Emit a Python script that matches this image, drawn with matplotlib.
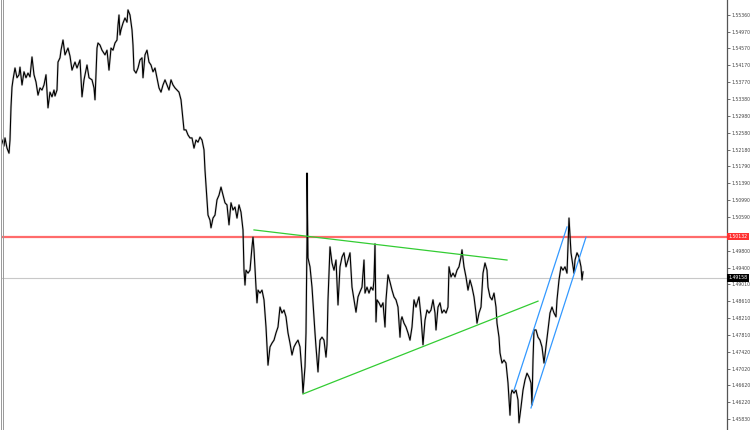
import matplotlib
matplotlib.use("Agg")
import matplotlib.pyplot as plt
from matplotlib.lines import Line2D

# price path (bar number, price)
bars = [
    2, 4, 5, 7, 9, 10, 11, 12, 13, 15, 17, 19, 20, 22, 24, 26, 28, 30, 32, 34,
    36, 38, 40, 42, 44, 46, 48, 50, 52, 54, 55, 57, 58, 60, 61, 63, 65, 68, 70, 72,
    75, 77, 80, 82, 84, 85, 87, 89, 92, 94, 95, 97, 98, 100, 102, 105, 107, 109, 111, 113,
    115, 117, 118, 119, 120, 121, 123, 125, 127, 128, 130, 132, 133, 134, 136, 138, 140, 142, 143, 145,
    147, 149, 151, 153, 155, 157, 159, 161, 163, 165, 167, 169, 171, 173, 175, 177, 179, 181, 183, 184,
    186, 188, 190, 192, 194, 196, 198, 200, 202, 204, 205, 207, 208, 210, 211, 213, 215, 217, 219, 221,
    223, 225, 227, 229, 231, 233, 235, 237, 239, 241, 243, 244, 245, 246, 248, 250, 252, 253, 254, 256,
    257, 258, 260, 262, 264, 266, 268, 270, 272, 274, 276, 278, 280, 282, 284, 286, 288, 290, 292, 294,
    296, 298, 300, 302, 303, 305, 306, 307, 307, 308, 310, 312, 313, 315, 316, 318, 319, 320, 322, 324,
    326, 327, 328, 330, 332, 334, 336, 338, 339, 340, 342, 344, 346, 348, 350, 352, 354, 356, 358, 360,
    362, 364, 365, 367, 369, 371, 373, 374, 375, 376, 377, 379, 381, 383, 385, 386, 387, 388, 390, 392,
    394, 396, 398, 400, 401, 402, 404, 406, 408, 410, 412, 414, 416, 418, 419, 421, 423, 425, 427, 429,
    431, 433, 435, 436, 438, 440, 442, 444, 446, 448, 449, 451, 453, 455, 457, 459, 461, 462, 464, 466,
    468, 470, 472, 474, 476, 477, 479, 481, 483, 485, 487, 488, 490, 492, 494, 496, 497, 499, 500, 502,
    504, 506, 508, 510, 511, 512, 514, 516, 518, 519, 521, 523, 525, 527, 529, 531, 532, 533, 534, 536,
    538, 540, 542, 544, 546, 548, 550, 552, 554, 556, 557, 559, 561, 563, 565, 567, 568, 569, 570, 571,
    573, 574, 575, 577, 579, 581, 582, 583,
]
prices = [
    1.5241, 1.5227, 1.5246, 1.5222, 1.5210, 1.5241, 1.5319, 1.5366, 1.5383, 1.5411,
    1.5388, 1.5395, 1.5413, 1.5371, 1.5402, 1.5388, 1.5399, 1.5390, 1.5437, 1.5395,
    1.5378, 1.5347, 1.5364, 1.5359, 1.5371, 1.5395, 1.5317, 1.5354, 1.5343, 1.5359,
    1.5345, 1.5359, 1.5425, 1.5435, 1.5453, 1.5477, 1.5442, 1.5458, 1.5439, 1.5406,
    1.5425, 1.5411, 1.5430, 1.5343, 1.5383, 1.5395, 1.5418, 1.5388, 1.5383, 1.5364,
    1.5336, 1.5458, 1.5470, 1.5465, 1.5453, 1.5442, 1.5453, 1.5406, 1.5458, 1.5453,
    1.5470, 1.5477, 1.5512, 1.5536, 1.5489, 1.5501, 1.5517, 1.5529, 1.5519, 1.5548,
    1.5536, 1.5501, 1.5465, 1.5406, 1.5399, 1.5411, 1.5430, 1.5435, 1.5388, 1.5442,
    1.5453, 1.5425, 1.5418, 1.5402, 1.5411, 1.5388, 1.5364, 1.5354, 1.5371, 1.5383,
    1.5371, 1.5359, 1.5383, 1.5371, 1.5364, 1.5359, 1.5354, 1.5336, 1.5288, 1.5265,
    1.5265, 1.5253, 1.5246, 1.5246, 1.5222, 1.5241, 1.5236, 1.5248, 1.5241, 1.5218,
    1.5170, 1.5100, 1.5064, 1.5052, 1.5034, 1.5057, 1.5064, 1.5100, 1.5111, 1.5130,
    1.5111, 1.5093, 1.5088, 1.5041, 1.5093, 1.5076, 1.5083, 1.5057, 1.5088, 1.5071,
    1.5029, 1.4934, 1.4899, 1.4934, 1.4927, 1.4934, 1.4989, 1.5012, 1.4982, 1.4894,
    1.4857, 1.4887, 1.4880, 1.4887, 1.4864, 1.4800, 1.4710, 1.4753, 1.4762, 1.4769,
    1.4786, 1.4800, 1.4847, 1.4833, 1.4840, 1.4824, 1.4786, 1.4762, 1.4734, 1.4753,
    1.4762, 1.4769, 1.4753, 1.4691, 1.4644, 1.4706, 1.4786, 1.5005, 1.5163, 1.4963,
    1.4942, 1.4894, 1.4857, 1.4786, 1.4753, 1.4694, 1.4734, 1.4769, 1.4776, 1.4769,
    1.4729, 1.4758, 1.4864, 1.4989, 1.4951, 1.4934, 1.4958, 1.4852, 1.4899, 1.4942,
    1.4965, 1.4975, 1.4942, 1.4958, 1.4975, 1.4894, 1.4864, 1.4835, 1.4871, 1.4883,
    1.4894, 1.4958, 1.4880, 1.4894, 1.4880, 1.4894, 1.4887, 1.4911, 1.4996, 1.4812,
    1.4864, 1.4857, 1.4847, 1.4857, 1.4800, 1.4864, 1.4894, 1.4923, 1.4906, 1.4887,
    1.4871, 1.4864, 1.4847, 1.4776, 1.4816, 1.4824, 1.4809, 1.4800, 1.4786, 1.4769,
    1.4800, 1.4864, 1.4847, 1.4864, 1.4871, 1.4824, 1.4758, 1.4816, 1.4840, 1.4833,
    1.4840, 1.4864, 1.4833, 1.4793, 1.4847, 1.4857, 1.4833, 1.4840, 1.4833, 1.4847,
    1.4942, 1.4918, 1.4927, 1.4918, 1.4934, 1.4942, 1.4965, 1.4982, 1.4942, 1.4918,
    1.4887, 1.4911, 1.4894, 1.4871, 1.4833, 1.4809, 1.4833, 1.4847, 1.4927, 1.4951,
    1.4934, 1.4894, 1.4871, 1.4864, 1.4880, 1.4847, 1.4809, 1.4776, 1.4739, 1.4715,
    1.4722, 1.4715, 1.4668, 1.4592, 1.4640, 1.4651, 1.4644, 1.4651, 1.4628, 1.4574,
    1.4611, 1.4651, 1.4675, 1.4691, 1.4682, 1.4668, 1.4616, 1.4722, 1.4793, 1.4793,
    1.4776, 1.4769, 1.4753, 1.4715, 1.4753, 1.4793, 1.4833, 1.4847, 1.4833, 1.4824,
    1.4864, 1.4911, 1.4942, 1.4934, 1.4942, 1.4927, 1.4989, 1.5057, 1.5017, 1.4975,
    1.4942, 1.4927, 1.4958, 1.4975, 1.4965, 1.4942, 1.4911, 1.4930,
]

# price scale labels on the right (1.50190 sits under the red level marker)
tick_values = [
    1.55360, 1.54970, 1.54570, 1.54170, 1.53770, 1.53380, 1.52980, 1.52580,
    1.52180, 1.51790, 1.51390, 1.50990, 1.50590, 1.49800, 1.49400,
    1.49010, 1.48610, 1.48210, 1.47810, 1.47420, 1.47020, 1.46620, 1.46220,
    1.45830,
]

# drawn objects: horizontal levels and trendlines (bar, price endpoints)
resistance_level = 1.50132
last_price = 1.49158
triangle_upper = ([254, 507], [1.5029, 1.4958])
triangle_lower = ([303, 538], [1.4642, 1.4861])
channel_upper = ([514, 567], [1.4651, 1.5036])
channel_lower = ([531, 586], [1.4609, 1.5012])

W, H = 750, 430
fig = plt.figure(figsize=(W / 100, H / 100), dpi=100)
fig.patch.set_facecolor("white")
ax = fig.add_axes([2 / W, 0, 725 / W, 1])
ax.set_xlim(2, 727)
ax.set_ylim(1.45570, 1.55714)

ax.axhline(last_price, color="#c8c8c8", lw=0.8, zorder=1)
ax.axhline(resistance_level, color="#ff6b6b", lw=1.6, zorder=2)

ax.plot(bars, prices, color="#999999", lw=1.6, alpha=0.45, zorder=3)
ax.plot(bars, prices, color="black", lw=0.8, zorder=4)

for xs, ys in (triangle_upper, triangle_lower):
    ax.plot(xs, ys, color="#33cc33", lw=0.9, zorder=5)
for xs, ys in (channel_upper, channel_lower):
    ax.plot(xs, ys, color="#3399ff", lw=0.9, zorder=5)

# axis styling
for side in ("top", "bottom", "left"):
    ax.spines[side].set_visible(False)
ax.spines["right"].set_color("#555555")
ax.spines["right"].set_linewidth(0.9)
ax.set_xticks([])
ax.yaxis.tick_right()
ax.set_yticks(tick_values)
ax.set_yticklabels([f"{v:.5f}" for v in tick_values])
ax.tick_params(axis="y", length=2.5, width=0.6, color="#555555",
               labelsize=3.3, labelcolor="#444444", pad=1)

# price markers on the scale
for val, bg in ((resistance_level, "#ff3030"), (last_price, "black")):
    ax.text(1.0025, val, f"{val:.5f}", transform=ax.get_yaxis_transform(),
            fontsize=3.3, color="white", va="center", ha="left", zorder=10,
            bbox=dict(boxstyle="square,pad=0.3", fc=bg, ec="none"), clip_on=False)

# double frame on the left edge
for xp in (0.5, 2.5):
    fig.add_artist(Line2D([xp / W, xp / W], [0, 1], color="#999999", lw=0.7))

fig.savefig("out.png", dpi=100)
